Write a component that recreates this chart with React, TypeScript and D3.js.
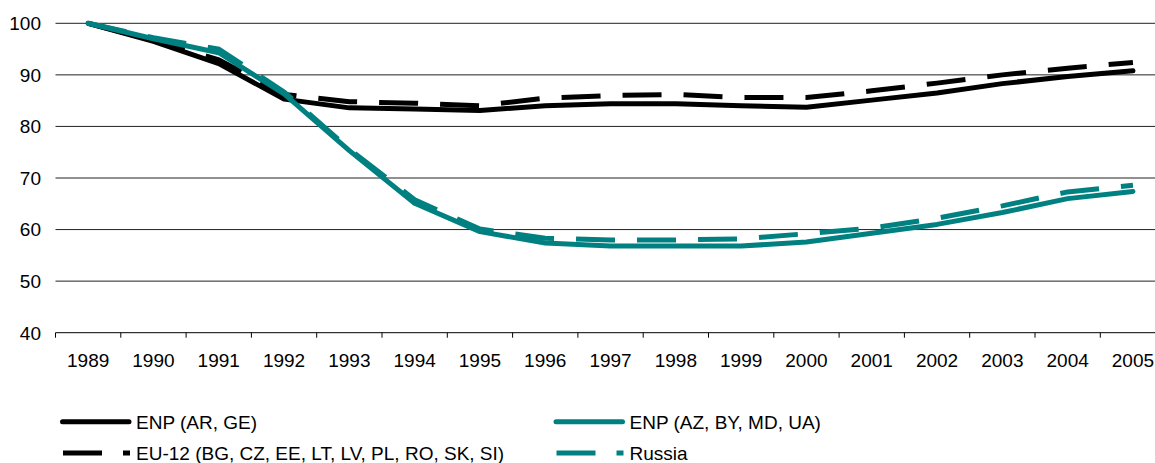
import React, { useEffect, useRef } from "react";
import * as d3 from "d3";

const years = ["1989", "1990", "1991", "1992", "1993", "1994", "1995", "1996", "1997", "1998", "1999", "2000", "2001", "2002", "2003", "2004", "2005"];
const yTicks = [40, 50, 60, 70, 80, 90, 100];

const enpArGe = [100, 96.5, 92.2, 85.3, 83.6, 83.4, 83.1, 84.0, 84.4, 84.4, 84.0, 83.7, 85.1, 86.5, 88.3, 89.7, 90.8];
const eu12 = [100, 96.7, 92.9, 86.2, 84.8, 84.5, 84.0, 85.5, 86.0, 86.2, 85.6, 85.6, 86.9, 88.4, 90.0, 91.3, 92.4];
const enpAzByMdUa = [100, 97.0, 94.3, 86.3, 75.3, 65.1, 59.6, 57.4, 56.8, 56.8, 56.8, 57.6, 59.3, 61.0, 63.3, 66.0, 67.4];
const russia = [100, 97.2, 95.0, 86.7, 75.6, 65.8, 60.1, 58.3, 58.0, 58.0, 58.2, 59.2, 60.3, 62.2, 64.6, 67.3, 68.6];

const TEAL = "#008080";
const FONT = "'Liberation Sans', Arial, sans-serif";

const series = [
  { name: "ENP (AR, GE)", values: enpArGe, color: "#000", dashed: false },
  { name: "EU-12 (BG, CZ, EE, LT, LV, PL, RO, SK, SI)", values: eu12, color: "#000", dashed: true },
  { name: "ENP (AZ, BY, MD, UA)", values: enpAzByMdUa, color: TEAL, dashed: false },
  { name: "Russia", values: russia, color: TEAL, dashed: true },
];

export default function App() {
  const ref = useRef<SVGSVGElement>(null);

  useEffect(() => {
    const svg = d3.select(ref.current);
    svg.selectAll("*").remove();

    const x = d3.scaleBand<string>().domain(years).range([55.5, 1165.6]);
    const y = d3.scaleLinear().domain([40, 100]).range([332.7, 23.3]);
    const cx = (i: number) => (x(years[i]) as number) + x.bandwidth() / 2;

    // gridlines
    svg.append("g")
      .selectAll("line")
      .data(yTicks.filter((t) => t > 40))
      .enter()
      .append("line")
      .attr("x1", 55.5)
      .attr("x2", 1170)
      .attr("y1", (d) => y(d))
      .attr("y2", (d) => y(d))
      .attr("stroke", "#222")
      .attr("stroke-width", 1);

    // y labels
    svg.append("g")
      .selectAll("text")
      .data(yTicks)
      .enter()
      .append("text")
      .attr("x", 41)
      .attr("y", (d) => y(d) + 6.8)
      .attr("text-anchor", "end")
      .attr("font-family", FONT)
      .attr("font-size", 19)
      .attr("fill", "#000")
      .text((d) => d);

    // x axis
    const xAxis = svg.append("g").attr("transform", "translate(0," + y(40) + ")");
    xAxis.append("line").attr("x1", 55.5).attr("x2", 1170).attr("stroke", "#000");
    xAxis.selectAll("line.tick")
      .data(d3.range(years.length + 1))
      .enter()
      .append("line")
      .attr("class", "tick")
      .attr("x1", (i) => 55.5 + i * x.bandwidth())
      .attr("x2", (i) => 55.5 + i * x.bandwidth())
      .attr("y1", 0)
      .attr("y2", 5)
      .attr("stroke", "#000");
    xAxis.selectAll("text")
      .data(years)
      .enter()
      .append("text")
      .attr("x", (d, i) => cx(i))
      .attr("y", 34.8)
      .attr("text-anchor", "middle")
      .attr("font-family", FONT)
      .attr("font-size", 19)
      .attr("fill", "#000")
      .text((d) => d);

    // lines
    const line = d3.line<number>()
      .x((d, i) => cx(i))
      .y((d) => y(d));

    series.forEach((s) => {
      svg.append("path")
        .datum(s.values)
        .attr("d", line)
        .attr("fill", "none")
        .attr("stroke", s.color)
        .attr("stroke-width", 5)
        .attr("stroke-linejoin", s.dashed ? "miter" : "round")
        .attr("stroke-linecap", s.dashed ? "butt" : "round")
        .attr("stroke-dasharray", s.dashed ? "39,22" : null);
    });

    // legend
    const legendPos = [
      { x: 63, y: 421.7 },
      { x: 63, y: 453 },
      { x: 556.5, y: 421.7 },
      { x: 556.5, y: 453 },
    ];
    series.forEach((s, i) => {
      const p = legendPos[i];
      const g = svg.append("g");
      if (s.dashed) {
        g.append("line")
          .attr("x1", p.x)
          .attr("x2", p.x + 67)
          .attr("y1", p.y)
          .attr("y2", p.y)
          .attr("stroke", s.color)
          .attr("stroke-width", 5)
          .attr("stroke-dasharray", "39,21");
      } else {
        g.append("line")
          .attr("x1", p.x - 0.5)
          .attr("x2", p.x + 66)
          .attr("y1", p.y)
          .attr("y2", p.y)
          .attr("stroke", s.color)
          .attr("stroke-width", 5)
          .attr("stroke-linecap", "round");
      }
      g.append("text")
        .attr("x", p.x + 73)
        .attr("y", p.y + 7.3)
        .attr("font-family", FONT)
        .attr("font-size", 19)
        .attr("fill", "#000")
        .text(s.name);
    });
  }, []);

  return (
    <div style={{ position: "absolute", left: 0, top: 0 }}>
      <svg ref={ref} width={1155} height={463} style={{ display: "block", background: "#fff" }} />
    </div>
  );
}
